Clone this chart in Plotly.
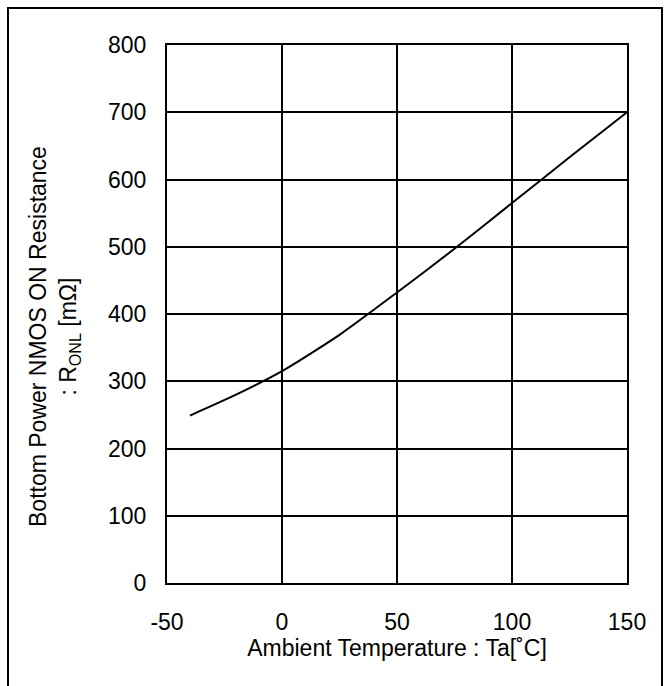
import plotly.graph_objects as go

# Bottom power NMOS on-resistance vs ambient temperature
temperature_c = [-40, -20, 0, 25, 50, 75, 100, 125, 150]
r_onl_mohm = [249, 280, 315, 369, 432, 497, 565, 633, 700]

x_ticks = [-50, 0, 50, 100, 150]
y_ticks = [0, 100, 200, 300, 400, 500, 600, 700, 800]

FONT = "Liberation Sans, Arial, sans-serif"
FS = 23
W, H = 670, 686
L, R, T, B = 167, 43, 45, 103
pw, ph = W - L - R, H - T - B

fig = go.Figure()
fig.add_trace(go.Scatter(
    x=temperature_c, y=r_onl_mohm, mode="lines",
    line=dict(color="black", width=2, shape="spline", smoothing=0.6),
    hoverinfo="skip", showlegend=False,
))

axis_common = dict(
    showline=True, linecolor="black", linewidth=2, mirror=True,
    showgrid=True, gridcolor="black", gridwidth=2,
    zeroline=False, ticks="",
    tickfont=dict(family=FONT, size=FS, color="black"),
)

fig.update_xaxes(
    range=[-50, 150], tickvals=x_ticks, ticktext=[str(v) for v in x_ticks],
    title=dict(text="Ambient Temperature : Ta[˚C]",
               font=dict(family=FONT, size=FS, color="black"), standoff=6),
    ticklabelstandoff=17,
    **axis_common,
)
fig.update_yaxes(
    range=[0, 800], tickvals=y_ticks, ticktext=[str(v) for v in y_ticks],
    ticklabelstandoff=14,
    **axis_common,
)

# y-axis title, two rotated lines placed left of the tick labels
fig.add_annotation(
    text="Bottom Power NMOS ON Resistance<br>: R<sub>ONL</sub> [mΩ]",
    xref="paper", yref="paper",
    x=(54 - L) / pw, y=(H - B - 337) / ph,
    xanchor="center", yanchor="middle", textangle=-90,
    showarrow=False, font=dict(family=FONT, size=FS, color="black"),
)

# outer frame around the figure
fig.add_shape(
    type="rect", xref="paper", yref="paper",
    x0=(8 - L) / pw, x1=(662 - L) / pw,
    y0=-(H + 10 - (H - B)) / ph, y1=1 + (T - 8) / ph,
    line=dict(color="black", width=2), fillcolor="rgba(0,0,0,0)", layer="below",
)

fig.update_layout(
    width=W, height=H,
    margin=dict(l=L, r=R, t=T, b=B),
    paper_bgcolor="white", plot_bgcolor="white",
    font=dict(family=FONT, color="black"),
)

fig.write_html("out.html")
